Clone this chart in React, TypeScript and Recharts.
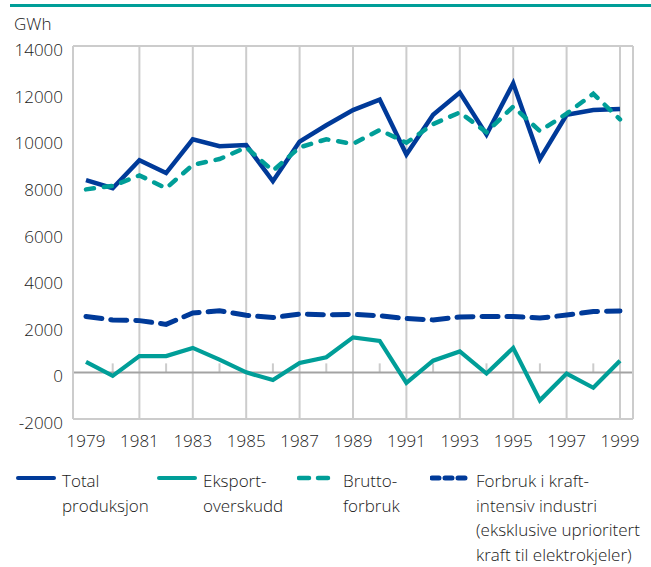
import React from 'react';
import { LineChart, Line, XAxis, YAxis, CartesianGrid, ReferenceLine, Legend } from 'recharts';

if (typeof document !== 'undefined') {
  document.body.style.margin = '0';
}

// ---------- data ----------
const years = [1979, 1980, 1981, 1982, 1983, 1984, 1985, 1986, 1987, 1988, 1989, 1990, 1991, 1992, 1993, 1994, 1995, 1996, 1997, 1998, 1999];
const totalProduksjon = [8250, 7900, 9100, 8550, 10000, 9700, 9750, 8200, 9900, 10600, 11250, 11700, 9350, 11050, 12000, 10200, 12400, 9150, 11050, 11250, 11300];
const eksportOverskudd = [450, -150, 700, 700, 1050, 550, 0, -330, 400, 650, 1500, 1350, -450, 500, 900, -50, 1050, -1200, -50, -660, 500];
const bruttoForbruk = [7850, 8000, 8450, 7900, 8900, 9150, 9650, 8650, 9650, 10000, 9800, 10400, 9850, 10650, 11150, 10300, 11400, 10350, 11100, 11950, 10850];
const kraftintensivForbruk = [2400, 2250, 2220, 2060, 2550, 2640, 2450, 2350, 2500, 2470, 2490, 2430, 2310, 2250, 2380, 2400, 2400, 2330, 2460, 2610, 2630];

const yTicks = [-2000, 0, 2000, 4000, 6000, 8000, 10000, 12000, 14000];
const gridYears = [1981, 1983, 1985, 1987, 1989, 1991, 1993, 1995, 1997, 1999];
const minorTickYears = [1980, 1982, 1984, 1986, 1988, 1990, 1992, 1994, 1996, 1998];
const unitLabel = 'GWh';

const seriesNames = ['Total produksjon', 'Eksportoverskudd', 'Bruttoforbruk', 'Forbruk i kraftintensiv industri'];
const legendLabels = [
  ['Total', 'produksjon'],
  ['Eksport-', 'overskudd'],
  ['Brutto-', 'forbruk'],
  ['Forbruk i kraft-', 'intensiv industri', '(eksklusive uprioritert', 'kraft til elektrokjeler)'],
];

const data = years.map((year, i) => ({
  year,
  total: totalProduksjon[i],
  eksport: eksportOverskudd[i],
  brutto: bruttoForbruk[i],
  kraft: kraftintensivForbruk[i],
}));

// ---------- styles ----------
const BLUE = '#003a99';
const TEAL = '#009e98';
const GRID = '#cccccc';
const ZERO = '#a3a3a3';
const TEXT = '#1a1a1a';
const FONT = '"Open Sans", "Noto Sans", sans-serif';
const FS = 17;
const FW = 300;

const legendStyles = [
  { color: BLUE, dash: undefined as string | undefined, width: 4 },
  { color: TEAL, dash: undefined as string | undefined, width: 4 },
  { color: TEAL, dash: '10 9', width: 4.5 },
  { color: BLUE, dash: '7 6', width: 5 },
];
const legendLeft = [16, 157, 297, 430];

const YTick = (props: any) => {
  const { x, y, payload } = props;
  return (
    <text x={x} y={y + 10} textAnchor="end" fontSize={FS} fontWeight={FW} fill={TEXT} fontFamily={FONT}>
      {payload.value}
    </text>
  );
};

const XTick = (props: any) => {
  const { x, y, payload } = props;
  return (
    <text x={x} y={y + 28} textAnchor="middle" fontSize={FS} fontWeight={FW} fill={TEXT} fontFamily={FONT}>
      {payload.value}
    </text>
  );
};

const MinorTick = (props: any) => {
  const { x1, y1 } = props;
  return <line x1={x1} y1={y1} x2={x1} y2={y1 - 9} stroke={GRID} strokeWidth={2} />;
};

const UnitLabel = (props: any) => {
  const vb = props.viewBox || { x: 0, y: 46 };
  return (
    <text x={vb.x + 14} y={vb.y - 16} fontSize={FS} fontWeight={FW} fill={TEXT} fontFamily={FONT}>
      {unitLabel}
    </text>
  );
};

const LegendContent = () => (
  <div style={{ position: 'relative', width: 651, height: 100, fontFamily: FONT, fontSize: FS, fontWeight: FW, color: TEXT, lineHeight: '24.5px' }}>
    {legendLabels.map((lines, i) => {
      const st = legendStyles[i];
      return (
        <div key={i} style={{ position: 'absolute', left: legendLeft[i], top: 0, display: 'flex', alignItems: 'flex-start' }}>
          <svg width={42} height={16} style={{ marginTop: 1 }}>
            <line
              x1={2}
              y1={8}
              x2={38}
              y2={8}
              stroke={st.color}
              strokeWidth={st.width}
              strokeDasharray={st.dash}
              strokeLinecap="round"
            />
          </svg>
          <div style={{ marginLeft: 4, whiteSpace: 'nowrap' }}>
            {lines.map((l, j) => (
              <div key={j}>{l}</div>
            ))}
          </div>
        </div>
      );
    })}
  </div>
);

export default function App() {
  return (
    <div style={{ position: 'relative', width: 651, height: 567, background: '#fff' }}>
      <div style={{ position: 'absolute', left: 10, top: 4, width: 641, height: 3, background: TEAL }} />
      <LineChart width={651} height={567} data={data} margin={{ top: 46, right: 0, bottom: 118, left: 0 }}>
        <CartesianGrid vertical={false} stroke={GRID} strokeWidth={2} />
        <XAxis
          dataKey="year"
          type="category"
          allowDuplicatedCategory={false}
          interval={1}
          padding={{ left: 13, right: 13 }}
          tickLine={false}
          tickSize={0}
          tickMargin={0}
          height={30}
          axisLine={{ stroke: GRID, strokeWidth: 2 }}
          tick={<XTick />}
        />
        <YAxis
          yAxisId="left"
          domain={[-2000, 14000]}
          ticks={yTicks}
          width={73}
          tickLine={false}
          tickSize={0}
          tickMargin={10}
          axisLine={{ stroke: GRID, strokeWidth: 2 }}
          tick={<YTick />}
          interval={0}
          label={<UnitLabel />}
        />
        <YAxis
          yAxisId="right"
          orientation="right"
          domain={[-2000, 14000]}
          ticks={yTicks}
          width={18}
          tick={false}
          tickLine={false}
          axisLine={{ stroke: GRID, strokeWidth: 2 }}
        />
        {gridYears.map((yr) => (
          <ReferenceLine key={'g' + yr} yAxisId="left" x={yr} stroke={GRID} strokeWidth={2} zIndex={-50} />
        ))}
        <ReferenceLine yAxisId="left" y={0} stroke={ZERO} strokeWidth={2} zIndex={-40} />
        {minorTickYears.map((yr) => (
          <ReferenceLine
            key={'m' + yr}
            yAxisId="left"
            segment={[{ x: yr, y: 0 }, { x: yr, y: 0 }]}
            shape={<MinorTick />}
            zIndex={-50}
          />
        ))}
        <Legend
          layout="vertical"
          align="center"
          verticalAlign="middle"
          wrapperStyle={{ left: 0, top: 469, width: 651, height: 100 }}
          content={<LegendContent />}
        />
        <Line yAxisId="left" name={seriesNames[0]} dataKey="total" type="linear" stroke={BLUE} strokeWidth={4.5} dot={false} isAnimationActive={false} />
        <Line yAxisId="left" name={seriesNames[1]} dataKey="eksport" type="linear" stroke={TEAL} strokeWidth={4.2} dot={false} isAnimationActive={false} />
        <Line yAxisId="left" name={seriesNames[3]} dataKey="kraft" type="linear" stroke={BLUE} strokeWidth={5} strokeDasharray="16 9" strokeLinecap="round" dot={false} isAnimationActive={false} />
        <Line yAxisId="left" name={seriesNames[2]} dataKey="brutto" type="linear" stroke={TEAL} strokeWidth={4.5} strokeDasharray="8 10" strokeLinecap="round" dot={false} isAnimationActive={false} />
      </LineChart>
    </div>
  );
}
